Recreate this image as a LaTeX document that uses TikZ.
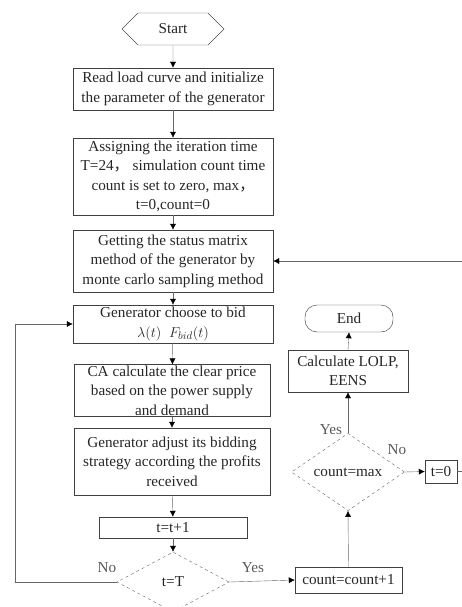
\documentclass[tikz,border=0pt]{standalone}
\usepackage{fontspec}
\setmainfont{Liberation Serif}
\newfontfamily\cjk{Noto Sans CJK SC}
\usepackage{amsmath}
\usetikzlibrary{shapes.geometric,shapes.symbols,arrows.meta}

\begin{document}
\begin{tikzpicture}[x=1pt,y=-1pt,
every node/.style={
	font=\fontsize{15.2}{19.5}\selectfont,
	text=black!85
},
proc/.style={
	draw=black!75,
	rectangle,
	align=center,
	inner sep=1pt
},
decide/.style={
	draw=black!60,
	dashed,
	diamond,
	inner sep=0pt
},
lbl/.style={
	text=black!65
},
link/.style={
	-{Latex[length=6pt,width=6pt,black]},
	draw=black!60
}
]
\useasboundingbox (0,0) rectangle (461,607);

\node[signal, signal to=east and west, draw=black!70, minimum width=102, minimum height=32]
(start) at (173,29) {Start};

\node[proc, minimum width=200, minimum height=42] at (173,89)
(read) {Read load curve and initialize\\the parameter of the generator};

\node[proc, minimum width=200, minimum height=77] at (173,176.5)
(assign) {Assigning the iteration time\\T=24{\cjk ，}\ simulation count time\\count is set to zero, max{\cjk ，}\\t=0,count=0};

\node[proc, minimum width=200, minimum height=62] at (173,261)
(status) {Getting the status matrix\\method of the generator by\\monte carlo sampling method};

\node[proc, minimum width=200, minimum height=38] at (173,324)
(bid) {Generator choose to bid\\$\lambda(t)$\ \ $F_{bid}(t)$};

\node[proc, minimum width=196, minimum height=51] at (172,390.5)
(clear) {CA calculate the clear price\\based on the power supply\\and demand};

\node[proc, minimum width=196, minimum height=67] at (172,461.5)
(adjust) {Generator adjust its bidding\\strategy according the profits\\received};

\node[proc, minimum width=148, minimum height=21] at (173,527.5)
(incr) {t=t+1};

\node[decide, minimum width=112, minimum height=60] at (173,582)
(check) {t=T};

\node[proc, minimum width=107, minimum height=26] at (348.5,580)
(count) {count=count+1};

\node[decide, minimum width=113, minimum height=70] at (348,472)
(cmax) {count=max};

\node[proc, minimum width=32, minimum height=23] at (441,471.5)
(reset) {t=0};

\node[proc, minimum width=120, minimum height=42] at (348,371)
(calc) {Calculate LOLP,\\EENS};

\node[draw=black!80, rounded corners=12pt, minimum width=88, minimum height=27] at (349,318.5)
(finish) {End};

% labels of the two decisions
\node[lbl] (noA) at (107,568) {No};
\node[lbl] (yesA) at (253,568) {Yes};
\node[lbl] (yesB) at (331,430) {Yes};
\node[lbl] (noB) at (397,450) {No};

\coordinate (loopx) at (15,582);
\coordinate (backx) at (480,471.5);

\draw[link] (start) -- (read);
\draw[link] (read) -- (assign);
\draw[link] (assign) -- (status);
\draw[link] (status) -- (bid);
\draw[link] (bid) -- (clear);
\draw[link] (clear) -- (adjust);
\draw[link] (adjust) -- (incr);
\draw[link] (incr) -- (check);

\draw[link] (check.west) -- (loopx) |- (bid.west);
\draw[link] (check.east) -- (count.west);
\draw[link] (count.north) -- (cmax.south);
\draw[link] (cmax.north) -- (calc.south);
\draw[link] (calc.north) -- (finish.south);
\draw[link] (cmax.east) -- (reset.west);
\draw[link] (reset.east) -- (backx) |- (status.east);

\end{tikzpicture}
\end{document}
